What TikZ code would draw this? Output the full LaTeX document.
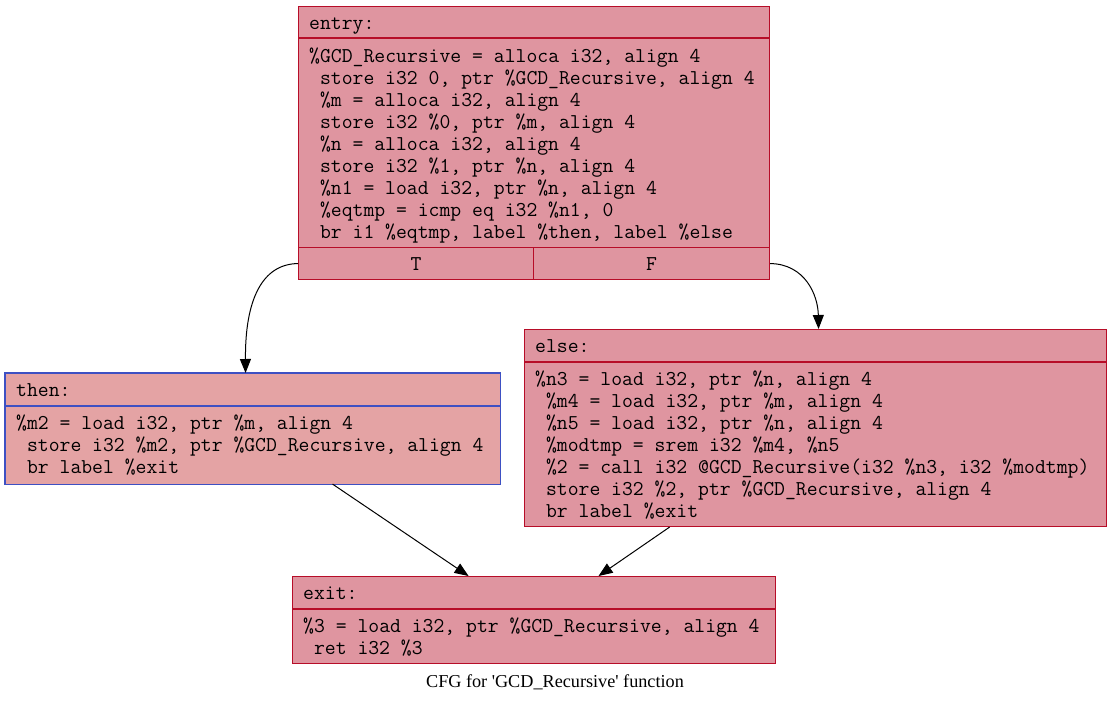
\documentclass[tikz,border=0pt]{standalone}
\usepackage{fontspec}
\setmainfont{Liberation Serif}[Ligatures=TeXOff]
\usetikzlibrary{arrows.meta}
\definecolor{rfill}{RGB}{223,149,160}
\definecolor{tfill}{RGB}{228,163,164}
\definecolor{rline}{RGB}{183,13,40}
\definecolor{bline}{RGB}{61,80,195}
\newcommand\ind{\hphantom{x}}
\tikzset{
  block/.style={line width=1.1pt, rectangle, inner sep=0pt, anchor=north west},
  code/.style={inner sep=0pt, anchor=base west, font=\ttfamily\fontsize{21.1}{22}\selectfont},
  cell/.style={draw=rline, line width=1.1pt, rectangle, inner sep=0pt, anchor=north west, minimum height=32pt, font=\ttfamily\fontsize{21.1}{22}\selectfont},
  sep/.style={line width=1.1pt},
  edge/.style={draw=black, line width=1pt, -{Triangle[length=14pt,width=11pt]}},
}
\begin{document}
\begin{tikzpicture}[x=1pt,y=-1pt]
\useasboundingbox (0,0) rectangle (1112,702);
% entry
\node[block, draw=rline, fill=rfill, minimum width=471pt, minimum height=273pt] (entry) at (298,6) {};
\draw[sep, rline] ([yshift=-32pt]entry.north west) -- ([yshift=-32pt]entry.north east);
\node[code] (entryh) at (309,29) {entry:};
\foreach \t [count=\i] in {{\%GCD\_Recursive = alloca i32, align 4},{\ind store i32 0, ptr \%GCD\_Recursive, align 4},{\ind\%m = alloca i32, align 4},{\ind store i32 \%0, ptr \%m, align 4},{\ind\%n = alloca i32, align 4},{\ind store i32 \%1, ptr \%n, align 4},{\ind\%n1 = load i32, ptr \%n, align 4},{\ind\%eqtmp = icmp eq i32 \%n1, 0},{\ind br i1 \%eqtmp, label \%then, label \%else}}
  \node[code] (entry-\i) at (309,{40+22*\i}) {\t};
\node[cell, fill=rfill, minimum width=235pt] (entryT) at (298,247) {T};
\node[cell, fill=rfill, minimum width=236pt] (entryF) at (533,247) {F};
% then
\node[block, fill=tfill, minimum width=494pt, minimum height=110pt] (then) at (5,373) {};
\draw[sep, bline] (then.north west) rectangle (then.south east);
\draw[sep, bline] ([yshift=-33pt]then.north west) -- ([yshift=-33pt]then.north east);
\node[code] (thenh) at (16,396) {then:};
\foreach \t [count=\i] in {{\%m2 = load i32, ptr \%m, align 4},{\ind store i32 \%m2, ptr \%GCD\_Recursive, align 4},{\ind br label \%exit}}
  \node[code] (then-\i) at (16,{407+22*\i}) {\t};
% else
\node[block, draw=rline, fill=rfill, minimum width=582pt, minimum height=197pt] (else) at (524,329) {};
\draw[sep, rline] ([yshift=-33pt]else.north west) -- ([yshift=-33pt]else.north east);
\node[code] (elseh) at (535,352) {else:};
\foreach \t [count=\i] in {{\%n3 = load i32, ptr \%n, align 4},{\ind\%m4 = load i32, ptr \%m, align 4},{\ind\%n5 = load i32, ptr \%n, align 4},{\ind\%modtmp = srem i32 \%m4, \%n5},{\ind\%2 = call i32 @GCD\_Recursive(i32 \%n3, i32 \%modtmp)},{\ind store i32 \%2, ptr \%GCD\_Recursive, align 4},{\ind br label \%exit}}
  \node[code] (else-\i) at (535,{363+22*\i}) {\t};
% exit
\node[block, draw=rline, fill=rfill, minimum width=483pt, minimum height=87pt] (exit) at (292,576) {};
\draw[sep, rline] ([yshift=-33pt]exit.north west) -- ([yshift=-33pt]exit.north east);
\node[code] (exith) at (303,599) {exit:};
\foreach \t [count=\i] in {{\%3 = load i32, ptr \%GCD\_Recursive, align 4},{\ind ret i32 \%3}}
  \node[code] (exit-\i) at (303,{610+22*\i}) {\t};
% caption
\node[inner sep=0pt, anchor=base, font=\fontsize{18.2}{22}\selectfont] (cap) at (555,687) {CFG for 'GCD\_Recursive' function};
% edges
\draw[edge] (entryT.west) .. controls (262,264) and (245,300) .. ([xshift=-7pt]then.north);
\draw[edge] (entryF.east) .. controls (805,264) and (818,295) .. ([xshift=3pt]else.north);
\draw[edge] ([xshift=80pt]then.south) -- ([xshift=-65.5pt]exit.north);
\draw[edge] ([xshift=-146pt]else.south) -- ([xshift=64.5pt]exit.north);
\end{tikzpicture}
\end{document}
